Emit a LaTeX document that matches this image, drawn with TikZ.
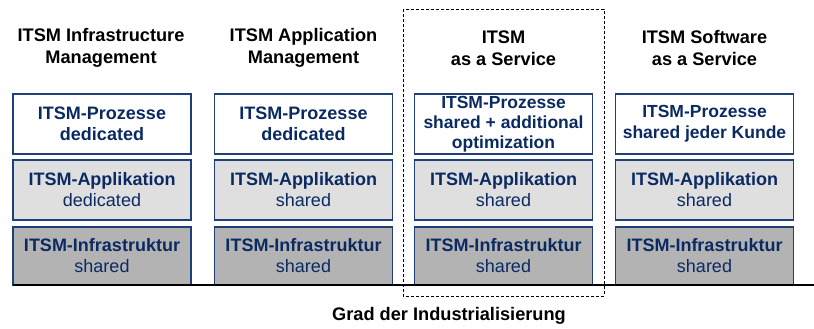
\documentclass[tikz,border=0pt]{standalone}
\usepackage{fontspec}
\setmainfont{Liberation Sans}
\definecolor{navy}{HTML}{0B2A62}
\definecolor{boxline}{HTML}{1F3F7A}
\definecolor{appfill}{HTML}{DFDFDF}
\definecolor{infrafill}{HTML}{B3B3B3}
\tikzset{
  layer/.style={draw=boxline, line width=1.2pt, minimum width=178pt, inner sep=0pt, align=center,
    text=navy, font=\fontsize{18}{21}\selectfont},
  proc/.style={layer, fill=white, minimum height=60pt},
  app/.style={layer, fill=appfill, minimum height=60pt},
  infra/.style={layer, fill=infrafill, minimum height=58pt},
  head/.style={align=center, font=\fontsize{18.2}{22}\selectfont\bfseries, text=black},
}
\begin{document}
\begin{tikzpicture}[x=1pt,y=-1pt]
\useasboundingbox (0,0) rectangle (814,329);
% headers
\node[head] (h1) at (101,48) {ITSM Infrastructure\\Management};
\node[head] (h2) at (303.5,48) {ITSM Application\\Management};
\node[head] (h3) at (503.5,48) {ITSM\\as a Service};
\node[head] (h4) at (704.5,48) {ITSM Software\\as a Service};
% process row
\node[proc] (p1) at (102,124) {\textbf{ITSM-Prozesse}\\\textbf{dedicated}};
\node[proc] (p2) at (303.5,124) {\textbf{ITSM-Prozesse}\\\textbf{dedicated}};
\node[proc, font=\fontsize{17.5}{20}\selectfont] (p3) at (503.5,124) {\textbf{ITSM-Prozesse}\\\textbf{shared + additional}\\\textbf{optimization}};
\node[proc, font=\fontsize{17.5}{21}\selectfont] (p4) at (704.5,124) {\textbf{ITSM-Prozesse}\\\textbf{shared jeder Kunde}};
% application row
\node[app] (a1) at (102,190) {\textbf{ITSM-Applikation}\\dedicated};
\node[app] (a2) at (303.5,190) {\textbf{ITSM-Applikation}\\shared};
\node[app] (a3) at (503.5,190) {\textbf{ITSM-Applikation}\\shared};
\node[app] (a4) at (704.5,190) {\textbf{ITSM-Applikation}\\shared};
% infrastructure row
\node[infra] (i1) at (102,256) {\textbf{ITSM-Infrastruktur}\\shared};
\node[infra] (i2) at (303.5,256) {\textbf{ITSM-Infrastruktur}\\shared};
\node[infra] (i3) at (503.5,256) {\textbf{ITSM-Infrastruktur}\\shared};
\node[infra] (i4) at (704.5,256) {\textbf{ITSM-Infrastruktur}\\shared};
% baseline axis
\coordinate (axl) at (13,285);
\coordinate (axr) at (814,285);
\draw[black, line width=1.3pt] (axl) -- (axr);
% dashed highlight
\draw[black, line width=0.9pt, dash pattern=on 3pt off 2pt] (403,9) rectangle (604,296);
% bottom label
\node[head] (lab) at (449,316) {Grad der Industrialisierung};
\end{tikzpicture}
\end{document}
